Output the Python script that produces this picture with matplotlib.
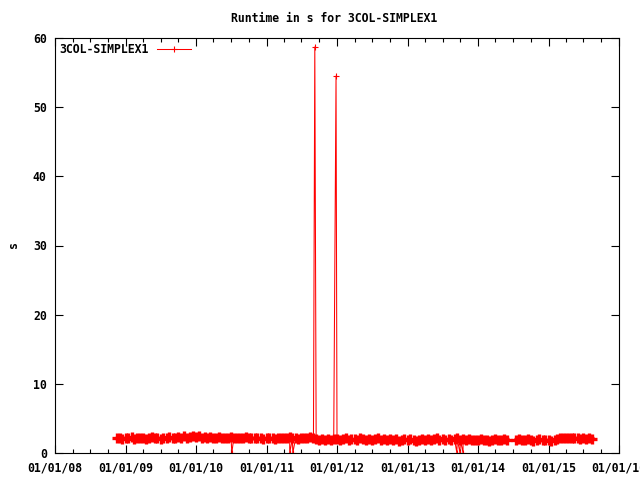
import numpy as np
import pandas as pd
import matplotlib
matplotlib.use("Agg")
import matplotlib.pyplot as plt
import matplotlib.dates as mdates

# =====================================================
# DATA
# =====================================================

# semi-monthly runs, Nov 2008 .. Aug 2015 (nan = no runs)
run_start = "2008-11-15"
run_end = "2015-08-15"

vals_2008 = [2.1, 2.2, 2.0]
vals_2009 = [2.2, 2.1, 2.3, 2.0, 2.2, 2.1, 2.2, 2.0, 2.1, 2.3, 2.1, 2.2,
             2.0, 2.2, 2.1, 2.3, 2.2, 2.1, 2.3, 2.2, 2.4, 2.2, 2.3, 2.4]
vals_2010 = [2.3, 2.4, 2.2, 2.3, 2.2, 2.3, 2.1, 2.2, 2.3, 2.2, 2.1, 2.2,
             2.3, 2.1, 2.2, 2.2, 2.1, 2.3, 2.2, 2.1, 2.2, 2.1, 2.2, 2.0]
vals_2011 = [2.1, 2.2, 2.1, 2.0, 2.2, 2.1, 2.1, 2.2, 2.3, 2.1, 2.2, 2.0,
             2.1, 2.2, 2.1, 2.3, 2.2, 2.0, 1.9, 2.0, 1.9, 2.0, 1.9, 2.0]
vals_2012 = [2.0, 1.9, 2.0, 2.1, 1.9, 2.0, 2.0, 1.9, 2.1, 2.0, 1.9, 2.0,
             1.9, 2.0, 2.1, 1.9, 2.0, 1.9, 2.0, 1.9, 2.0, 1.8, 1.9, 2.0]
vals_2013 = [1.9, 2.0, 1.9, 1.8, 1.9, 2.0, 1.9, 2.0, 1.9, 2.0, 2.1, 1.9,
             2.0, 1.9, 2.0, 1.9, 2.0, 2.1, 1.9, 2.0, 1.9, 2.0, 1.9, 1.9]
vals_2014 = [1.9, 2.0, 1.9, 1.9, 1.8, 1.9, 2.0, 1.9, 1.9, 2.0, 1.9, np.nan,
             np.nan, 1.9, 2.0, 1.9, 1.9, 2.0, 1.9, 1.8, 1.9, 2.0, 1.9, 1.9]
vals_2015 = [1.9, 1.8, 1.9, 2.0, 2.1, 2.2, 2.1, 2.2, 2.1, 2.2, 2.1, 2.0,
             2.1, 2.0, 2.1, 2.0]

# outliers: failed runs (0) and the two slow ones
event_dates = ["2010-07-05", "2011-05-01", "2011-05-17", "2011-09-08",
               "2011-12-27", "2013-09-13", "2013-09-29", "2013-10-15"]
event_vals = [0.0, 0.0, 0.0, 58.7, 54.5, 0.0, 0.0, 0.0]

# =====================================================
# BUILD SERIES
# =====================================================

run_dates = pd.date_range(run_start, run_end, freq="SMS")
runs = pd.DataFrame({
    "date": run_dates,
    "s": vals_2008 + vals_2009 + vals_2010 + vals_2011 + vals_2012
         + vals_2013 + vals_2014 + vals_2015,
})
events = pd.DataFrame({"date": pd.to_datetime(event_dates), "s": event_vals})

df = pd.concat([runs, events], ignore_index=True)
df = df.dropna().sort_values("date")
runs = runs.dropna()

# =====================================================
# PLOT
# =====================================================

fs = 8.3
font = {"family": "DejaVu Sans Mono", "weight": "bold", "size": fs}

fig = plt.figure(figsize=(6.4, 4.8), dpi=100)
ax = fig.add_axes([55 / 640, 1 - 453 / 480, 564 / 640, 415 / 480])

ax.plot(
    df["date"], df["s"],
    color="red", linewidth=0.75,
    marker="+", markersize=5, markeredgewidth=0.8,
    label="3COL-SIMPLEX1",
)

# the dense daily runs form a solid band in the original
ax.plot(
    runs["date"], runs["s"],
    color="red", linestyle="none",
    marker="+", markersize=7, markeredgewidth=2.4,
)

ax.set_xlim(pd.Timestamp("2008-01-01"), pd.Timestamp("2016-01-01"))
ax.set_ylim(0, 60)

ax.xaxis.set_major_locator(mdates.YearLocator())
ax.xaxis.set_minor_locator(mdates.MonthLocator(bymonth=[1, 4, 7, 10]))
ax.xaxis.set_major_formatter(mdates.DateFormatter("%d/%m/%y"))
ax.set_yticks(range(0, 61, 10))

ax.tick_params(which="both", direction="in", top=True, right=True,
               color="black", width=0.8)
ax.tick_params(which="major", length=6, pad=6)
ax.tick_params(which="minor", length=3)
for lab in ax.get_xticklabels() + ax.get_yticklabels():
    lab.set_fontfamily(font["family"])
    lab.set_fontweight("bold")
    lab.set_fontsize(fs)

for sp in ax.spines.values():
    sp.set_linewidth(0.8)

fig.text(13 / 640, 1 - 245 / 480, "s", rotation=90,
         ha="center", va="center", fontdict=font)
fig.text(334 / 640, 1 - 18 / 480, "Runtime in s for 3COL-SIMPLEX1",
         ha="center", va="center", fontdict=font)

leg = ax.legend(loc="upper left", frameon=False, markerfirst=False,
                prop=font, handlelength=2.95, borderaxespad=0.0,
                handletextpad=0.7)

fig.savefig("out.png", dpi=100)
